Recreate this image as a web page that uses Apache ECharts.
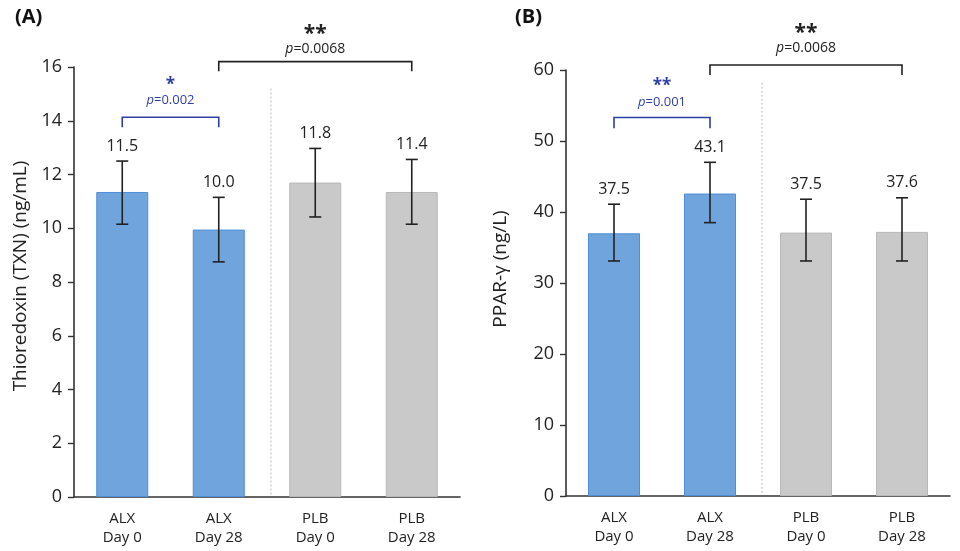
<!DOCTYPE html>
<html>
<head>
<meta charset="utf-8">
<script src="https://cdn.jsdelivr.net/npm/echarts@6/dist/echarts.min.js"></script>
<style>
  html, body { margin: 0; padding: 0; background: #fff; }
  #box { width: 960px; height: 551px; }
</style>
</head>
<body>
<div id="box"></div>
<script>
// categories shared by both panels
var categories = ['ALX\nDay 0', 'ALX\nDay 28', 'PLB\nDay 0', 'PLB\nDay 28']

// (A) thioredoxin
var txnMean = [11.35, 9.95, 11.7, 11.35]
var txnLow = [10.15, 8.75, 10.42, 10.15]
var txnHigh = [12.5, 11.15, 12.97, 12.56]
var txnLabels = ['11.5', '10.0', '11.8', '11.4']
var txnTicks = [0, 16, 2]
// bracket: from, to, top, leg end
var txnBrackets = [[0, 1, 14.13, 13.76], [1, 3, 16.2, 15.84]]
var txnStars = ['*', '**']
var txnP = ['0.002', '0.0068']
var txnDividerTop = 15.2

// (B) PPAR-gamma
var pparMean = [37.0, 42.6, 37.1, 37.2]
var pparLow = [33.1, 38.5, 33.1, 33.1]
var pparHigh = [41.1, 47.0, 41.8, 42.0]
var pparLabels = ['37.5', '43.1', '37.5', '37.6']
var pparTicks = [0, 60, 10]
var pparBrackets = [[0, 1, 53.3, 51.8], [1, 3, 60.7, 59.3]]
var pparStars = ['**', '**']
var pparP = ['0.001', '0.0068']
var pparDividerTop = 58.2

var FONT = '"Open Sans", "DejaVu Sans", sans-serif'
var bracketColors = ['#2f3fa6', '#222']

function errSeries(idx, low, high, labels) {
    return {
        type: 'custom',
        xAxisIndex: idx,
        yAxisIndex: idx,
        z: 5,
        data: low.map(function (v, i) { return [i, v, high[i]] }),
        renderItem: function (params, api) {
            var x = api.value(0)
            var lo = api.coord([x, api.value(1)])
            var hi = api.coord([x, api.value(2)])
            var half = 6
            var st = { stroke: '#222', lineWidth: 1.6 }
            return {
                type: 'group',
                children: [
                    { type: 'line', shape: { x1: hi[0], y1: hi[1], x2: lo[0], y2: lo[1] }, style: st },
                    { type: 'line', shape: { x1: hi[0] - half, y1: hi[1], x2: hi[0] + half, y2: hi[1] }, style: st },
                    { type: 'line', shape: { x1: lo[0] - half, y1: lo[1], x2: lo[0] + half, y2: lo[1] }, style: st },
                    {
                        type: 'text', x: hi[0], y: hi[1] - 7,
                        style: {
                            text: labels[params.dataIndex], fill: '#222', align: 'center',
                            verticalAlign: 'bottom', fontSize: 16, fontFamily: FONT
                        }
                    }
                ]
            }
        }
    }
}

// gaps: [p-text gap, star gap] for the small and the big bracket
function bracketSeries(idx, brackets, stars, ps, gaps) {
    return {
        type: 'custom',
        xAxisIndex: idx,
        yAxisIndex: idx,
        z: 6,
        clip: false,
        data: brackets,
        renderItem: function (params, api) {
            var i = params.dataIndex
            var a = api.coord([api.value(0), api.value(2)])
            var b = api.coord([api.value(1), api.value(2)])
            var la = api.coord([api.value(0), api.value(3)])
            var lb = api.coord([api.value(1), api.value(3)])
            var c = bracketColors[i]
            var big = i === 1
            var st = { stroke: c, lineWidth: 1.6, fill: null }
            var mid = (a[0] + b[0]) / 2
            var fs = big ? 14 : 13
            return {
                type: 'group',
                children: [
                    {
                        type: 'polyline',
                        shape: { points: [[la[0], la[1]], a, b, [lb[0], lb[1]]] },
                        style: st
                    },
                    {
                        type: 'text', x: mid, y: a[1] - gaps[i][0],
                        style: {
                            text: '{i|p}=' + ps[i], fill: c, align: 'center', verticalAlign: 'middle',
                            fontSize: fs, fontFamily: FONT,
                            rich: { i: { fontStyle: 'italic', fontSize: fs, fontFamily: FONT, fill: c } }
                        }
                    },
                    {
                        type: 'text', x: mid, y: a[1] - gaps[i][1],
                        style: {
                            text: stars[i], fill: c, align: 'center', verticalAlign: 'middle',
                            fontSize: big ? 21 : 17, fontWeight: 'bold', fontFamily: FONT
                        }
                    }
                ]
            }
        }
    }
}

// dotted line between the ALX and PLB groups
function dividerSeries(idx, top) {
    return {
        type: 'custom',
        xAxisIndex: idx,
        yAxisIndex: idx,
        z: 1,
        data: [[1, 2, top]],
        renderItem: function (params, api) {
            var a = api.coord([api.value(0), api.value(2)])
            var b = api.coord([api.value(1), 0])
            var x = (a[0] + b[0]) / 2 + 4
            return {
                type: 'line',
                shape: { x1: x, y1: a[1], x2: x, y2: b[1] - 1 },
                style: { stroke: '#bbb', lineWidth: 1, lineDash: [2, 2] }
            }
        }
    }
}

function yAxisOf(idx, ticks, name, gap, shift) {
    return {
        type: 'value',
        gridIndex: idx,
        min: ticks[0],
        max: ticks[1],
        interval: ticks[2],
        name: name,
        nameLocation: 'middle',
        nameGap: gap,
        nameTextStyle: { fontSize: 19, color: '#222', fontFamily: FONT, padding: [0, 0, 0, shift] },
        axisLine: { show: true, lineStyle: { color: '#333', width: 1.6 } },
        axisTick: { show: true, length: 6, lineStyle: { color: '#333', width: 1.4 } },
        axisLabel: { fontSize: 18, color: '#222', margin: 12, fontFamily: FONT },
        splitLine: { show: false }
    }
}

function xAxisOf(idx) {
    return {
        type: 'category',
        gridIndex: idx,
        data: categories,
        axisLine: { lineStyle: { color: '#333', width: 1.6 } },
        axisTick: { show: false },
        axisLabel: { fontSize: 15, color: '#222', lineHeight: 19, margin: 12, fontFamily: FONT },
        splitLine: { show: false }
    }
}

function barSeries(idx, values) {
    return {
        type: 'bar',
        xAxisIndex: idx,
        yAxisIndex: idx,
        barWidth: 52,
        z: 2,
        data: values.map(function (v, i) {
            var alx = i < 2
            return {
                value: v,
                itemStyle: {
                    color: alx ? '#70a4dc' : '#c9c9c9',
                    borderColor: alx ? '#4e8ed6' : '#b9b9b9',
                    borderWidth: 1
                }
            }
        })
    }
}

var Chart = echarts.init(document.getElementById('box'))
var option = {
    animation: false,
    textStyle: { fontFamily: FONT },
    title: [
        { text: '(A)', left: 10, top: 2, textStyle: { fontSize: 20, fontWeight: 'bold', color: '#111', fontFamily: FONT } },
        { text: '(B)', left: 510, top: 2, textStyle: { fontSize: 20, fontWeight: 'bold', color: '#111', fontFamily: FONT } }
    ],
    grid: [
        { left: 74, top: 67, width: 386, height: 430 },
        { left: 566, top: 70, width: 384, height: 426 }
    ],
    xAxis: [xAxisOf(0), xAxisOf(1)],
    yAxis: [
        yAxisOf(0, txnTicks, 'Thioredoxin (TXN) (ng/mL)', 44, 12),
        yAxisOf(1, pparTicks, 'PPAR-γ (ng/L)', 56, 28)
    ],
    series: [
        dividerSeries(0, txnDividerTop),
        barSeries(0, txnMean),
        errSeries(0, txnLow, txnHigh, txnLabels),
        bracketSeries(0, txnBrackets, txnStars, txnP, [[17, 32], [13, 28]]),
        dividerSeries(1, pparDividerTop),
        barSeries(1, pparMean),
        errSeries(1, pparLow, pparHigh, pparLabels),
        bracketSeries(1, pparBrackets, pparStars, pparP, [[15, 31], [17, 32]])
    ]
}
Chart.setOption(option)
</script>
</body>
</html>
